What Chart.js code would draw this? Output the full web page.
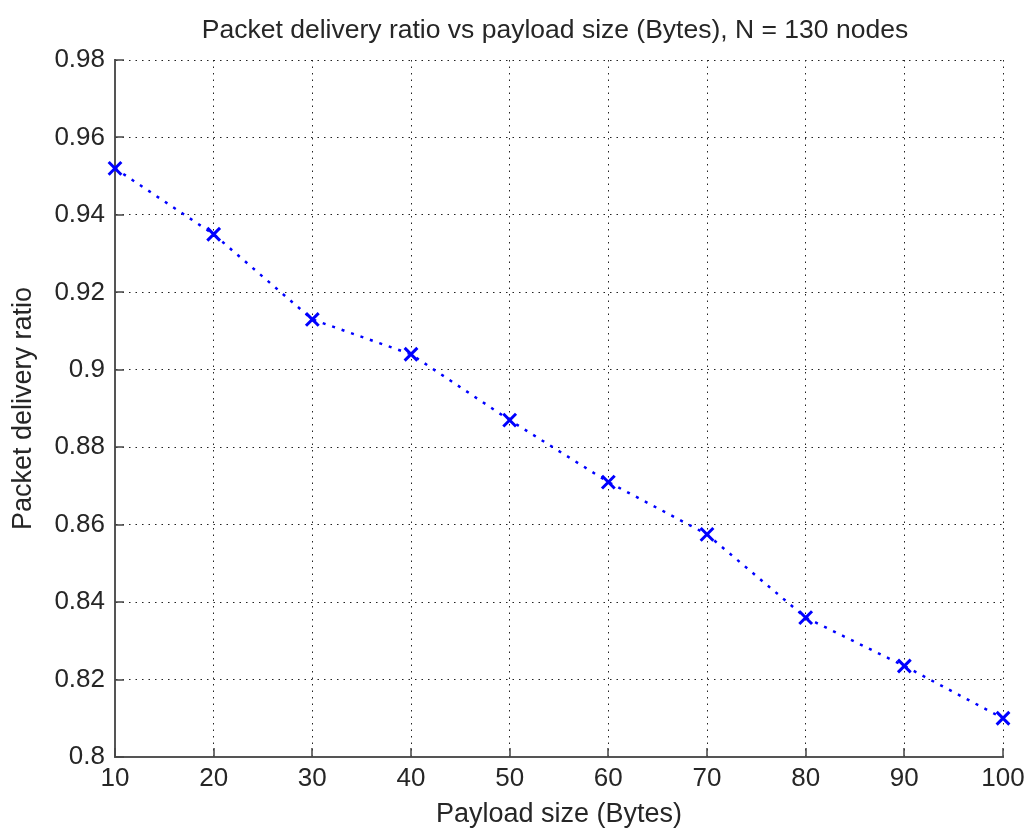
<!DOCTYPE html>
<html>
<head>
<meta charset="utf-8">
<script src="https://cdn.jsdelivr.net/npm/chart.js@4/dist/chart.umd.min.js"></script>
<style>
html,body{margin:0;padding:0;background:#fff;}
#wrap{width:1027px;height:832px;position:relative;}
</style>
</head>
<body>
<div id="wrap"><canvas id="c" width="1027" height="832"></canvas></div>
<script>
const payloadSizes = [10, 20, 30, 40, 50, 60, 70, 80, 90, 100];
const deliveryRatio = [0.952, 0.935, 0.913, 0.904, 0.887, 0.871, 0.8575, 0.836, 0.8235, 0.810];
const yTicks = [0.8, 0.82, 0.84, 0.86, 0.88, 0.9, 0.92, 0.94, 0.96, 0.98];
const xTicks = [10, 20, 30, 40, 50, 60, 70, 80, 90, 100];
const titleText = 'Packet delivery ratio vs payload size (Bytes), N = 130 nodes';
const xTitle = 'Payload size (Bytes)';
const yTitle = 'Packet delivery ratio';

const FONT = '"Liberation Sans", Arial, sans-serif';
const TEXT = '#262626';

const inwardTicks = {
  id: 'inwardTicks',
  afterDatasetsDraw(chart) {
    const ctx = chart.ctx, a = chart.chartArea;
    const xs = chart.scales.x, ys = chart.scales.y;
    ctx.save();
    ctx.strokeStyle = '#444';
    ctx.lineWidth = 1.5;
    ctx.setLineDash([]);
    ctx.beginPath();
    xs.ticks.forEach((t, i) => {
      const px = Math.round(xs.getPixelForTick(i));
      ctx.moveTo(px, a.bottom);
      ctx.lineTo(px, a.bottom - 9);
    });
    ys.ticks.forEach((t, i) => {
      const py = Math.round(ys.getPixelForTick(i));
      ctx.moveTo(a.left, py);
      ctx.lineTo(a.left + 9, py);
    });
    ctx.stroke();
    ctx.restore();
  }
};

const topTitle = {
  id: 'topTitle',
  afterDraw(c) {
    const ctx = c.ctx;
    ctx.save();
    ctx.fillStyle = TEXT;
    ctx.font = '26.5px ' + FONT;
    ctx.textAlign = 'center';
    ctx.textBaseline = 'alphabetic';
    ctx.fillText(titleText, 555, 38);
    ctx.restore();
  }
};

new Chart(document.getElementById('c'), {
  type: 'line',
  data: {
    datasets: [{
      data: payloadSizes.map((x, i) => ({x: x, y: deliveryRatio[i]})),
      borderColor: '#0000ff',
      backgroundColor: '#0000ff',
      borderWidth: 2.5,
      borderDash: [3, 7],
      pointStyle: 'crossRot',
      pointRadius: 9,
      pointBorderWidth: 3,
      pointBorderColor: '#0000ff',
      pointHoverRadius: 9,
      tension: 0,
      fill: false,
      clip: false
    }]
  },
  plugins: [inwardTicks, topTitle],
  options: {
    responsive: false,
    animation: false,
    events: [],
    layout: { padding: { top: 60, right: 24, left: 0, bottom: 0 } },
    plugins: {
      legend: { display: false },
      tooltip: { enabled: false },
      title: { display: false }
    },
    scales: {
      x: {
        type: 'linear',
        min: 10, max: 100,
        afterBuildTicks(s) { s.ticks = xTicks.map(v => ({value: v})); },
        afterFit(s) { s.height = 75; s.paddingRight = 0; s.paddingLeft = 0; },
        ticks: {
          color: TEXT,
          font: { family: FONT, size: 26 },
          padding: 6,
          maxRotation: 0,
          autoSkip: false,
          callback: v => String(v)
        },
        grid: { color: '#222', lineWidth: 1, drawTicks: false, tickLength: 0 },
        border: { display: true, color: '#555', width: 2, dash: [1.5, 5] },
        title: { display: true, text: xTitle, color: TEXT, font: { family: FONT, size: 27 }, padding: { top: 0, bottom: 1 } }
      },
      y: {
        type: 'linear',
        min: 0.8, max: 0.98,
        afterBuildTicks(s) { s.ticks = yTicks.map(v => ({value: v})); },
        afterFit(s) { s.width = 115; s.paddingTop = 0; s.paddingBottom = 0; },
        ticks: {
          color: TEXT,
          font: { family: FONT, size: 26 },
          padding: 10,
          autoSkip: false,
          callback: v => String(Number(v.toFixed(2)))
        },
        grid: { color: '#222', lineWidth: 1, drawTicks: false, tickLength: 0 },
        border: { display: true, color: '#555', width: 2, dash: [1.5, 5] },
        title: { display: true, text: yTitle, color: TEXT, font: { family: FONT, size: 27 }, padding: { top: 7, bottom: 0 } }
      }
    }
  }
});
</script>
</body>
</html>
